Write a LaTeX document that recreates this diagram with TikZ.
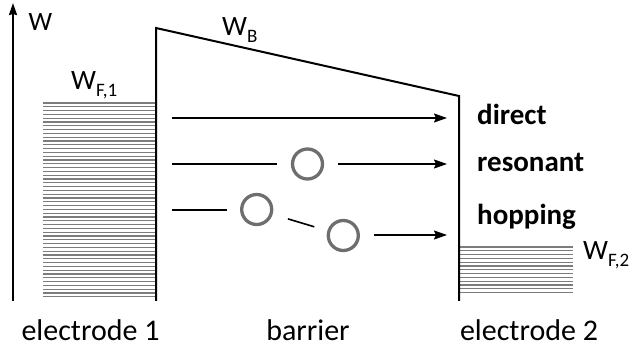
\documentclass[tikz,border=0pt]{standalone}
\usepackage{fontspec}
\setmainfont{Carlito}
\usetikzlibrary{arrows.meta,calc}
\definecolor{stripe}{RGB}{125,125,125}
\definecolor{dotc}{RGB}{110,110,110}
\newcommand{\lowsub}[1]{\raisebox{-6.5pt}{\fontsize{19}{20}\selectfont #1}}
\tikzset{
  x=1pt,y=-1pt,
  wall/.style={line width=2pt,line join=miter},
  stripeline/.style={stripe,line width=1.3pt},
  path/.style={line width=1.6pt},
  arr/.style={path,-{Stealth[length=13pt,width=9pt,inset=2pt]}},
  site/.style={circle,draw=dotc,line width=3.3pt,minimum size=30pt,inner sep=0pt},
  wlab/.style={font=\fontsize{28}{32}\selectfont,inner sep=0pt,anchor=base west},
  lab/.style={font=\fontsize{30}{34}\selectfont,inner sep=0pt,anchor=base},
  blab/.style={font=\fontsize{29}{33}\selectfont\bfseries,inner sep=0pt,anchor=base west},
}
\begin{document}
\begin{tikzpicture}
\useasboundingbox (0,0) rectangle (632,347);
% axis
\coordinate (ax0) at (13,301);
\coordinate (ax1) at (13,3);
\draw[wall,-{Stealth[length=12pt,width=8pt,inset=1pt]}] (ax0) -- (ax1);
\node[wlab,font=\fontsize{26.5}{30}\selectfont] (W) at (28.5,31) {W};
% electrode 1 stripes
\foreach \y in {103,106.8,...,300.5}
  \draw[stripeline] (43,\y) -- (156,\y);
% electrode 2 stripes
\foreach \y in {247,250.8,...,294}
  \draw[stripeline] (459,\y) -- (573,\y);
% barrier
\coordinate (b0) at (156,301);
\coordinate (b1) at (156,28);
\coordinate (b2) at (459,96);
\coordinate (b3) at (459,301);
\draw[wall] (b0) -- (b1) -- (b2) -- (b3);
% labels
\node[wlab] (WF1) at (71,90) {W\lowsub{F,1}};
\node[wlab] (WB) at (222,36) {W\lowsub{B}};
\node[wlab] (WF2) at (583,260) {W\lowsub{F,2}};
% direct
\coordinate (d0) at (172,118);
\coordinate (d1) at (447,118);
\draw[arr] (d0) -- (d1);
\node[blab] (direct) at (477,125) {direct};
% resonant
\node[site] (r) at (307.5,164) {};
\coordinate (r0) at (172,164);
\coordinate (r1) at (277,164);
\coordinate (r2) at (338,164);
\coordinate (r3) at (447,164);
\draw[path] (r0) -- (r1);
\draw[arr] (r2) -- (r3);
\node[blab] (resonant) at (477,171.7) {resonant};
% hopping
\node[site] (h1) at (256.7,209.5) {};
\node[site] (h2) at (343.3,235.5) {};
\coordinate (p0) at (172,210);
\coordinate (p1) at (227,210);
\coordinate (p2) at (374,235);
\coordinate (p3) at (447,235);
\draw[path] (p0) -- (p1);
\draw[path] ($(h1)!0.36!(h2)$) -- ($(h1)!0.665!(h2)$);
\draw[arr] (p2) -- (p3);
\node[blab] (hopping) at (477,225) {hopping};
% bottom labels
\node[lab] (e1) at (90.5,341) {electrode 1};
\node[lab] (bar) at (308,341) {barrier};
\node[lab] (e2) at (529,341) {electrode 2};
\end{tikzpicture}
\end{document}
